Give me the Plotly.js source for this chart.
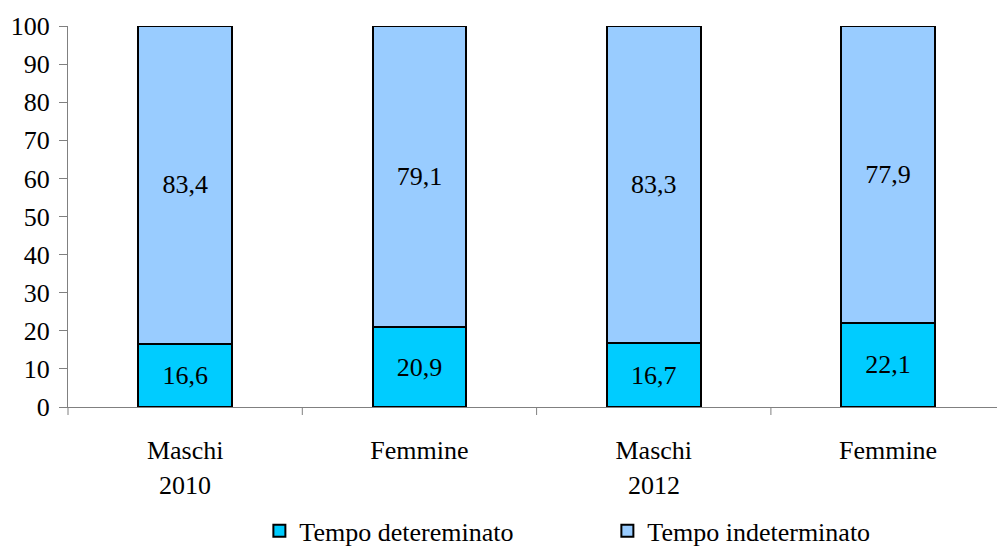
<!DOCTYPE html>
<html><head><meta charset="utf-8">
<script src="https://cdn.plot.ly/plotly-3.0.1.min.js"></script>
<style>html,body{margin:0;padding:0;background:#fff}</style>
</head><body><div id="chart" style="width:997px;height:546px"></div>
<script>
const categories = ["Maschi", "Femmine", "Maschi", "Femmine"];
const years = ["2010", "", "2012", ""];
const tempoDeterminato = [16.6, 20.9, 16.7, 22.1];
const tempoIndeterminato = [83.4, 79.1, 83.3, 77.9];
const seriesNames = ["Tempo detereminato", "Tempo indeterminato"];
const yTicks = [0,10,20,30,40,50,60,70,80,90,100];

const fmt = v => v.toFixed(1).replace('.', ',');
const font = {family: "'Liberation Serif', 'Times New Roman', serif", color: "#000"};
const F = s => Object.assign({size: s}, font);
const xs = categories.map((c, i) => i);

function bar(vals, name, color) {
  return {
    type: 'bar', x: xs, y: vals, name: name,
    text: vals.map(fmt), textposition: 'inside', insidetextanchor: 'middle',
    textfont: F(26), constraintext: 'none',
    marker: {color: color, line: {color: '#000', width: 2}},
    width: 0.4, hoverinfo: 'skip'
  };
}

const data = [
  bar(tempoDeterminato, seriesNames[0], '#00CCFF'),
  bar(tempoIndeterminato, seriesNames[1], '#99CCFF')
];

const annotations = years.map((y, i) => ({
  x: i, xref: 'x', y: -0.205, yref: 'paper', text: y, showarrow: false,
  font: F(26), yanchor: 'middle'
})).filter(a => a.text);

const layout = {
  width: 997, height: 546,
  margin: {l: 68, r: 0, t: 26, b: 139, autoexpand: false},
  barmode: 'stack',
  paper_bgcolor: '#fff', plot_bgcolor: '#fff',
  showlegend: true,
  legend: {orientation: 'h', x: 0.206, xanchor: 'left', y: -0.325, yanchor: 'middle',
    font: F(26), entrywidth: 303, entrywidthmode: 'pixels',
    traceorder: 'normal'},
  xaxis: {
    type: 'linear', range: [-0.5, 3.465], tickmode: 'array',
    tickvals: xs, ticktext: categories, automargin: false,
    ticks: '', showline: true, linecolor: '#808080', linewidth: 1,
    showgrid: false, zeroline: false, tickfont: F(26),
    ticklabelstandoff: 20, fixedrange: true
  },
  yaxis: {
    range: [0, 100], tickmode: 'array', tickvals: yTicks, ticktext: yTicks.map(String),
    ticks: 'outside', ticklen: 8, tickcolor: '#808080', showline: true, automargin: false,
    linecolor: '#808080', linewidth: 1, showgrid: false, zeroline: false,
    tickfont: F(26), ticklabelstandoff: 4
  },
  shapes: [0.5, 1.5, 2.5].map(b => ({
    type: 'line', xref: 'x', yref: 'paper', x0: b, x1: b, y0: 0, y1: -0.021,
    line: {color: '#808080', width: 1}
  })).concat([{type: 'line', xref: 'paper', yref: 'paper', x0: 0, x1: 0, y0: 0, y1: -0.021,
    line: {color: '#808080', width: 1}}]),
  annotations: annotations
};

Plotly.newPlot('chart', data, layout, {staticPlot: true});
</script></body></html>
